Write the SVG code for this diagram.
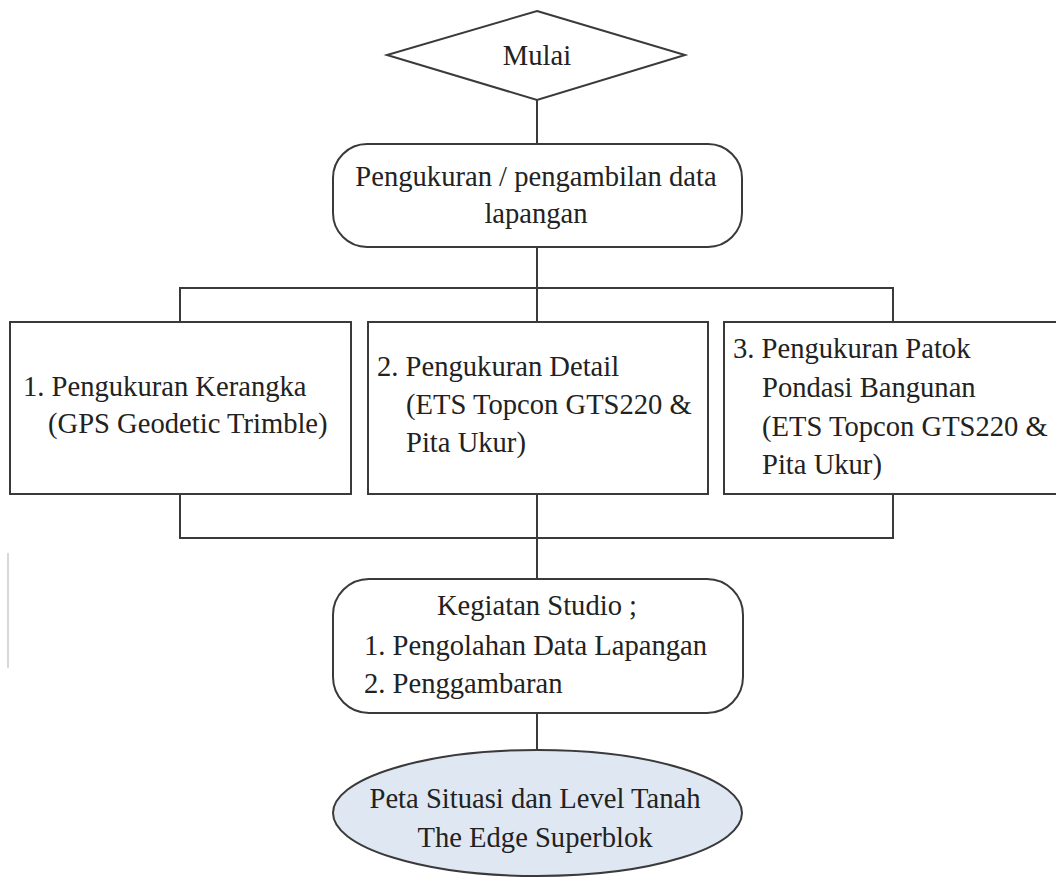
<svg xmlns="http://www.w3.org/2000/svg" width="1056" height="879" viewBox="0 0 1056 879">
<style>
.s{fill:#fff;stroke:#3a3a3a;stroke-width:2}
.c{fill:none;stroke:#3a3a3a;stroke-width:2}
text{font-family:"Liberation Serif","Times New Roman",serif;font-size:28.6px;fill:#222}
.m{text-anchor:middle}
</style>
<rect width="1056" height="879" fill="#fff"/>
<line x1="8" y1="553" x2="8" y2="668" stroke="#d8d8d8" stroke-width="2"/>
<g id="connectors">
<line class="c" x1="537" y1="100" x2="537" y2="144"/>
<line class="c" x1="537" y1="247" x2="537" y2="322"/>
<polyline class="c" points="180,322 180,288 893,288 893,322"/>
<polyline class="c" points="180,494 180,538 893,538 893,494"/>
<line class="c" x1="537" y1="494" x2="537" y2="579"/>
<line class="c" x1="537" y1="713" x2="537" y2="750"/>
</g>
<g id="mulai">
<polygon class="s" points="537,11 685,55 537,100 387,55"/>
<text class="m" x="537" y="65">Mulai</text>
</g>
<g id="pengukuran">
<rect class="s" x="333" y="144" width="409" height="103" rx="34" ry="34"/>
<text class="m" x="536" y="186">Pengukuran / pengambilan data</text>
<text class="m" x="536" y="223">lapangan</text>
</g>
<g id="kerangka">
<rect class="s" x="10" y="322" width="341" height="172"/>
<text x="23" y="396">1. Pengukuran Kerangka</text>
<text x="48" y="433">(GPS Geodetic Trimble)</text>
</g>
<g id="detail">
<rect class="s" x="368" y="322" width="340" height="172"/>
<text x="377" y="376">2. Pengukuran Detail</text>
<text x="406" y="414">(ETS Topcon GTS220 &amp;</text>
<text x="406" y="452">Pita Ukur)</text>
</g>
<g id="patok">
<rect class="s" x="724" y="322" width="340" height="172"/>
<text x="733" y="358">3. Pengukuran Patok</text>
<text x="762" y="397">Pondasi Bangunan</text>
<text x="762" y="436">(ETS Topcon GTS220 &amp;</text>
<text x="762" y="474">Pita Ukur)</text>
</g>
<g id="studio">
<rect class="s" x="333" y="579" width="410" height="134" rx="36" ry="36"/>
<text class="m" x="537" y="615">Kegiatan Studio ;</text>
<text x="364" y="655">1. Pengolahan Data Lapangan</text>
<text x="364" y="693">2. Penggambaran</text>
</g>
<g id="peta">
<ellipse cx="537.5" cy="813" rx="204.5" ry="63" fill="#dfe8f2" stroke="#3a3a3a" stroke-width="2"/>
<text class="m" x="535" y="808">Peta Situasi dan Level Tanah</text>
<text class="m" x="535" y="847">The Edge Superblok</text>
</g>
</svg>
